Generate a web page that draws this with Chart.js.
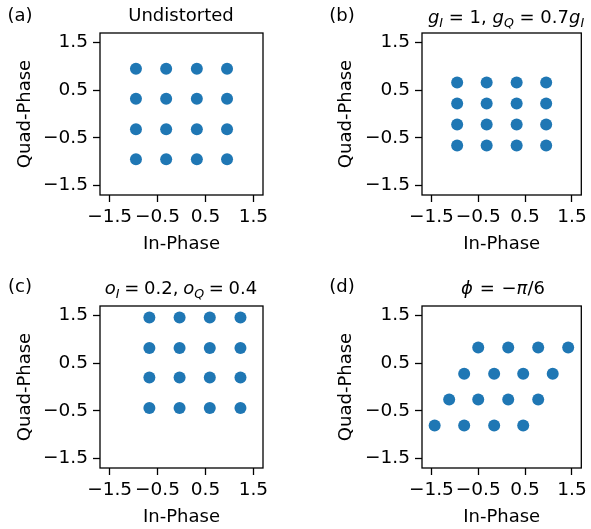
<!DOCTYPE html>
<html>
<head>
<meta charset="utf-8">
<script src="https://cdn.jsdelivr.net/npm/chart.js@4"></script>
<style>
  html, body { margin: 0; padding: 0; background: #fff; overflow: hidden; }
  #fig { position: relative; width: 591px; height: 529px; font-family: "DejaVu Sans", sans-serif; color: #000; }
  canvas { position: absolute; }
  .lbl { position: absolute; font-size: 18px; white-space: nowrap; transform: translate(-50%, -50%); line-height: 1; }
  .lbl sub { font-size: 70%; vertical-align: -0.3em; line-height: 0; }
</style>
</head>
<body>
<div id="fig">
  <canvas id="pa" width="296" height="265" style="left:0;top:0"></canvas>
  <canvas id="pb" width="295" height="265" style="left:296px;top:0"></canvas>
  <canvas id="pc" width="296" height="264" style="left:0;top:265px"></canvas>
  <canvas id="pd" width="295" height="264" style="left:296px;top:265px"></canvas>

  <div class="lbl" style="left:20px;top:15px">(a)</div>
  <div class="lbl" style="left:181px;top:15px">Undistorted</div>
  <div class="lbl" style="left:342px;top:15px">(b)</div>
  <div class="lbl" style="left:506px;top:17px"><i>g</i><sub><i>I</i></sub> = 1, <i>g</i><sub><i>Q</i></sub> = 0.7<i>g</i><sub><i>I</i></sub></div>
  <div class="lbl" style="left:20px;top:286px">(c)</div>
  <div class="lbl" style="left:181px;top:288px;word-spacing:-1px"><i>o</i><sub><i>I</i></sub> = 0.2, <i>o</i><sub><i>Q</i></sub> = 0.4</div>
  <div class="lbl" style="left:342px;top:286px">(d)</div>
  <div class="lbl" style="left:503px;top:288px;word-spacing:1px"><i>ϕ</i> = −<i>π</i>/6</div>
</div>
<script>
// ticks shared by every panel
const tickVals = [-1.5, -0.5, 0.5, 1.5];
const axMin = -1.7, axMax = 1.7;

// (a) undistorted 16-QAM
const aI = [-0.95, -0.32, 0.32, 0.95, -0.95, -0.32, 0.32, 0.95, -0.95, -0.32, 0.32, 0.95, -0.95, -0.32, 0.32, 0.95];
const aQ = [0.95, 0.95, 0.95, 0.95, 0.32, 0.32, 0.32, 0.32, -0.32, -0.32, -0.32, -0.32, -0.95, -0.95, -0.95, -0.95];

// (b) gain imbalance
const bI = [-0.95, -0.32, 0.32, 0.95, -0.95, -0.32, 0.32, 0.95, -0.95, -0.32, 0.32, 0.95, -0.95, -0.32, 0.32, 0.95];
const bQ = [0.66, 0.66, 0.66, 0.66, 0.22, 0.22, 0.22, 0.22, -0.22, -0.22, -0.22, -0.22, -0.66, -0.66, -0.66, -0.66];

// (c) DC offsets
const cI = [-0.67, -0.04, 0.59, 1.23, -0.67, -0.04, 0.59, 1.23, -0.67, -0.04, 0.59, 1.23, -0.67, -0.04, 0.59, 1.23];
const cQ = [1.46, 1.46, 1.46, 1.46, 0.82, 0.82, 0.82, 0.82, 0.20, 0.20, 0.20, 0.20, -0.44, -0.44, -0.44, -0.44];

// (d) phase imbalance
const dI = [-0.50, 0.14, 0.78, 1.42, -0.80, -0.16, 0.46, 1.09, -1.12, -0.50, 0.14, 0.78, -1.43, -0.80, -0.16, 0.46];
const dQ = [0.83, 0.83, 0.83, 0.83, 0.28, 0.28, 0.28, 0.28, -0.26, -0.26, -0.26, -0.26, -0.81, -0.81, -0.81, -0.81];

const BLUE = '#1f77b4';
const FONT = { family: '"DejaVu Sans", sans-serif', size: 18 };
const TICKFONT = { family: '"DejaVu Sans", sans-serif', size: 18.5 };
const HALF = 18 * 1.2 / 2;

// full box around the plot area (matplotlib spines)
const boxPlugin = {
  id: 'box',
  afterDraw(chart) {
    const a = chart.chartArea, ctx = chart.ctx;
    ctx.save();
    ctx.strokeStyle = '#000';
    ctx.lineWidth = 1.3;
    ctx.strokeRect(a.left, a.top, a.right - a.left, a.bottom - a.top);
    ctx.restore();
  }
};

function fmt(v) {
  return (v < 0 ? '\u2212' : '') + Math.abs(v).toFixed(1);
}

// box: canvas position in page, area: plot area in page coords
function panel(id, xs, ys, box, area, yTitleX) {
  const padLeft = yTitleX - 25 - box.left;
  const padTop = area.t - box.top;
  const padRight = box.left + box.w - area.r;
  const yWidth = area.l - box.left - padLeft;
  const xHeight = box.top + box.h - area.b;
  const xTitleOff = box.top + box.h - (area.b + 49);

  const pts = xs.map((x, i) => ({ x: x, y: ys[i] }));
  const axis = (title, isX) => ({
    type: 'linear',
    min: axMin,
    max: axMax,
    afterBuildTicks: s => { s.ticks = tickVals.map(v => ({ value: v })); },
    afterFit: s => { if (isX) s.height = xHeight; else s.width = yWidth; },
    ticks: {
      color: '#000', font: TICKFONT, autoSkip: false, maxRotation: 0,
      padding: isX ? 4 : 5,
      callback: v => fmt(v)
    },
    grid: { display: true, drawOnChartArea: false, drawTicks: true, tickLength: 7, tickColor: '#000', tickWidth: 1.3 },
    border: { display: false },
    title: {
      display: true, text: title, color: '#000', font: FONT,
      padding: isX ? { top: 0, bottom: xTitleOff - HALF } : { top: 25 - HALF, bottom: 0 }
    }
  });

  new Chart(document.getElementById(id), {
    type: 'scatter',
    data: { datasets: [{ data: pts, backgroundColor: BLUE, borderWidth: 0, pointRadius: 6, pointHoverRadius: 6 }] },
    options: {
      responsive: false,
      animation: false,
      layout: { padding: { left: padLeft, top: padTop, right: padRight, bottom: 0 } },
      plugins: { legend: { display: false }, tooltip: { enabled: false } },
      scales: { x: axis('In-Phase', true), y: axis('Quad-Phase', false) }
    },
    plugins: [boxPlugin]
  });
}

panel('pa', aI, aQ, { left: 0, top: 0, w: 296, h: 265 }, { l: 100, t: 33, r: 263, b: 195 }, 25);
panel('pb', bI, bQ, { left: 296, top: 0, w: 295, h: 265 }, { l: 422, t: 33, r: 585, b: 195 }, 346);
panel('pc', cI, cQ, { left: 0, top: 265, w: 296, h: 264 }, { l: 100, t: 306, r: 263, b: 468 }, 25);
panel('pd', dI, dQ, { left: 296, top: 265, w: 295, h: 264 }, { l: 422, t: 306, r: 585, b: 468 }, 346);
</script>
</body>
</html>
